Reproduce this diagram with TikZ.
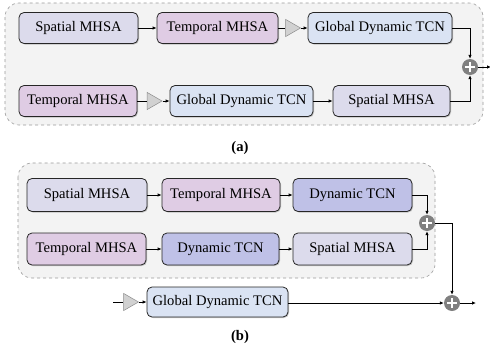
\documentclass[tikz,border=0pt]{standalone}
\usepackage{fontspec}
\setmainfont{Liberation Serif}
\usetikzlibrary{shapes.geometric,arrows.meta,shadows}
\definecolor{spat}{HTML}{DCDBEC}
\definecolor{temp}{HTML}{DFCCE4}
\definecolor{gdt}{HTML}{DAE3F3}
\definecolor{dyn}{HTML}{BFC1E7}
\definecolor{bgc}{HTML}{F3F3F3}
\definecolor{dashc}{HTML}{9A9A9A}
\tikzset{
  blk/.style={draw=black!85, line width=0.8pt, rounded corners=5pt, minimum height=31pt,
    inner sep=0pt, font=\fontsize{14.6}{16}\selectfont,
    drop shadow={shadow xshift=1pt, shadow yshift=-1pt, opacity=0.35, fill=black!60}},
  grp/.style={draw=dashc, dashed, fill=bgc, rounded corners=14pt, line width=0.6pt},
  plusc/.style={circle, fill=black!50, minimum size=16pt, inner sep=0pt},
  tri/.style={isosceles triangle, isosceles triangle apex angle=60, draw=black!45, fill=black!18,
    minimum height=15pt, inner sep=0pt, line width=0.5pt},
  conn/.style={line width=0.9pt, -{Latex[length=4pt,width=3.5pt]}},
  plain/.style={line width=0.9pt},
  lab/.style={font=\bfseries\fontsize{14.6}{16}\selectfont}
}
\newcommand{\plussign}[1]{\draw[white, line width=1.6pt] ([xshift=-5pt]#1.center) -- ([xshift=5pt]#1.center) ([yshift=-5pt]#1.center) -- ([yshift=5pt]#1.center);}
\begin{document}
\begin{tikzpicture}[x=1pt,y=-1pt]
\useasboundingbox (0,0) rectangle (490,351);
% ---------- (a)
\draw[grp] (5,3) rectangle (483,125);
\node[blk, fill=spat, minimum width=119pt] (a1) at (78.5,28) {Spatial MHSA};
\node[blk, fill=temp, minimum width=121pt] (a2) at (217.5,28) {Temporal MHSA};
\node[blk, fill=gdt, minimum width=144pt] (a3) at (380,28) {Global Dynamic TCN};
\node[blk, fill=temp, minimum width=118pt] (b1) at (78,101) {Temporal MHSA};
\node[blk, fill=gdt, minimum width=143pt] (b2) at (241.5,101) {Global Dynamic TCN};
\node[blk, fill=spat, minimum width=117pt] (b3) at (391.5,101) {Spatial MHSA};
\node[plusc] (pa) at (470,67) {};
\plussign{pa}
\node[tri] (ta) at (290.5,28) {};
\node[tri] (tb) at (152,101) {};
\coordinate (outa) at (491,67);
\draw[conn] (a1) -- (a2);
\draw[plain] (a2) -- (ta.west);
\draw[conn] (ta.east) -- (a3);
\draw[plain] (b1) -- (tb.west);
\draw[conn] (tb.east) -- (b2);
\draw[conn] (b2) -- (b3);
\draw[conn] (a3.east) -| (pa.north);
\draw[conn] (b3.east) -| (pa.south);
\draw[conn] (pa.east) -- (outa);
\node[lab] (la) at (240,148) {(a)};
% ---------- (b)
\draw[grp] (18,163) rectangle (435,278);
\node[blk, fill=spat, minimum width=120pt, minimum height=33pt] (c1) at (87,195) {Spatial MHSA};
\node[blk, fill=temp, minimum width=118pt, minimum height=33pt] (c2) at (221,195) {Temporal MHSA};
\node[blk, fill=dyn, minimum width=119pt, minimum height=33pt] (c3) at (352.5,195) {Dynamic TCN};
\node[blk, fill=temp, minimum width=119pt, minimum height=32pt] (d1) at (86.5,249) {Temporal MHSA};
\node[blk, fill=dyn, minimum width=117pt, minimum height=32pt] (d2) at (220.5,249) {Dynamic TCN};
\node[blk, fill=spat, minimum width=119pt, minimum height=32pt] (d3) at (352.5,249) {Spatial MHSA};
\node[plusc] (pb) at (427,223) {};
\plussign{pb}
\node[plusc] (pc) at (452,303) {};
\plussign{pc}
\node[blk, fill=gdt, minimum width=141pt, minimum height=30pt] (g) at (217.5,302) {Global Dynamic TCN};
\node[tri] (tc) at (128.5,302) {};
\coordinate (inb) at (113,302);
\coordinate (outb) at (476,303);
\draw[conn] (c1) -- (c2);
\draw[conn] (c2) -- (c3);
\draw[conn] (d1) -- (d2);
\draw[conn] (d2) -- (d3);
\draw[conn] (c3.east) -| (pb.north);
\draw[conn] (d3.east) -| (pb.south);
\draw[conn] (pb.east) -| (pc.north);
\draw[plain] (inb) -- (tc.west);
\draw[conn] (tc.east) -- (g);
\draw[conn] (g.east |- pc) -- (pc.west);
\draw[conn] (pc.east) -- (outb);
\node[lab] (lb) at (240,337) {(b)};
\end{tikzpicture}
\end{document}
